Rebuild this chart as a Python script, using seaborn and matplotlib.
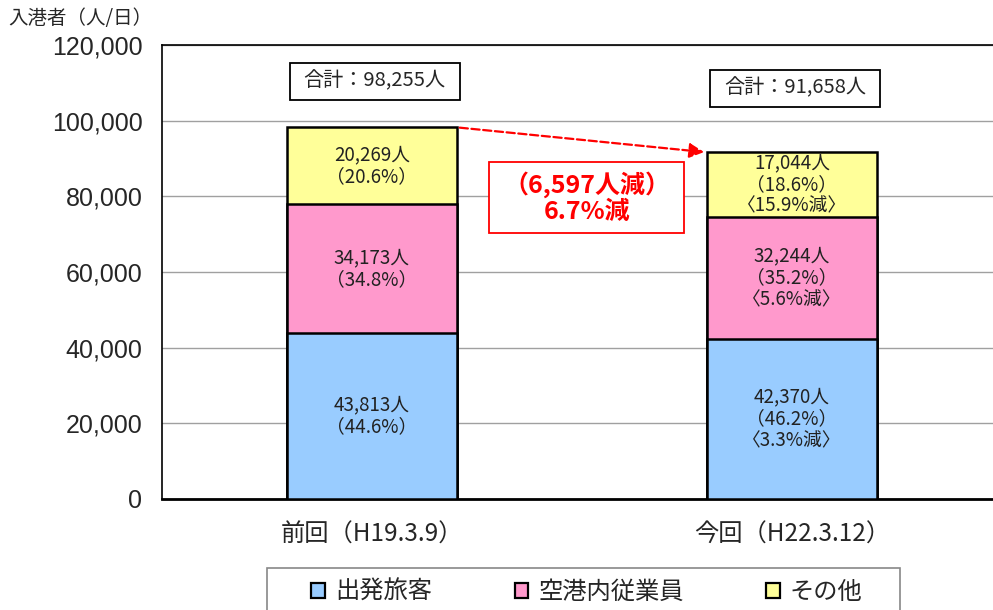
import numpy as np
import pandas as pd
import matplotlib
matplotlib.use('Agg')
import matplotlib.pyplot as plt
from matplotlib.patches import Patch, Rectangle
import seaborn as sns

# ------------------------------------------------------------------
# データ（入港者数：人/日）
# ------------------------------------------------------------------
categories = ['前回（H19.3.9）', '今回（H22.3.12）']
series_names = ['出発旅客', '空港内従業員', 'その他']
passengers = [43813, 42370]   # 出発旅客
staff = [34173, 32244]        # 空港内従業員
others = [20269, 17044]       # その他
y_ticks = [0, 20000, 40000, 60000, 80000, 100000, 120000]

colors = ['#99CCFF', '#FF99CC', '#FFFF99']

sns.set_style('white')
plt.rcParams['font.family'] = ['Noto Sans CJK JP', 'DejaVu Sans']
plt.rcParams['axes.unicode_minus'] = False

df = pd.DataFrame({'区分': categories, '出発旅客': passengers,
                   '空港内従業員': staff, 'その他': others})
df['合計'] = df[series_names].sum(axis=1)
cum_blue = df['出発旅客']
cum_pink = df['出発旅客'] + df['空港内従業員']
cum_total = df['合計']

fig = plt.figure(figsize=(9.93, 6.10), dpi=100)
ax = fig.add_axes([0.163, 0.182, 0.846, 0.744])

BAR_W = 0.405
# 積み上げ（後ろから描画）
for cum, col in [(cum_total, colors[2]), (cum_pink, colors[1]), (cum_blue, colors[0])]:
    sns.barplot(x=df['区分'], y=cum, color=col, saturation=1, width=BAR_W,
                edgecolor='black', linewidth=1.8, errorbar=None, ax=ax, zorder=3)

ax.set_xlim(-0.5, 1.5)
ax.set_ylim(0, 120000)
ax.set_yticks(y_ticks)
ax.set_yticklabels([f'{v:,}' for v in y_ticks], fontfamily='Liberation Sans', fontsize=18)
ax.yaxis.grid(True, color='#A0A0A0', linewidth=1.0, zorder=0)
ax.set_axisbelow(True)
ax.set_xlabel('')
ax.set_ylabel('')
for s in ax.spines.values():
    s.set_color('black')
ax.spines['bottom'].set_linewidth(2.0)
ax.spines['left'].set_linewidth(1.2)
ax.spines['top'].set_linewidth(1.2)
ax.tick_params(axis='y', length=0, pad=14)
ax.tick_params(axis='x', length=0, pad=16, labelsize=17.5)
ax.set_xticks([0.5], minor=True)
ax.tick_params(axis='x', which='minor', direction='in', length=5, color='black')

# ピクセル→データ座標の換算（枠の大きさ用）
fig.canvas.draw()
ext = ax.get_window_extent()
px_x = 2.0 / ext.width
px_y = 120000 / ext.height


def framed_text(x, y, s, w_px, h_px, edge, **kw):
    ax.add_patch(Rectangle((x - w_px * px_x / 2, y - h_px * px_y / 2), w_px * px_x, h_px * px_y,
                           facecolor='white', edgecolor=edge, linewidth=1.3, zorder=5))
    ax.text(x, y, s, ha='center', va='center', zorder=6, **kw)


# セグメントのラベル
prev = df.iloc[0]
for i, row in df.iterrows():
    bottoms = [0, row['出発旅客'], row['出発旅客'] + row['空港内従業員']]
    for name, b in zip(series_names, bottoms):
        v = row[name]
        lines = [f'{v:,}人', f'（{v / row["合計"] * 100:.1f}%）']
        if i > 0:
            lines.append(f'〈{(1 - v / prev[name]) * 100:.1f}%減〉')
        ax.text(i, b + v / 2, '\n'.join(lines), ha='center', va='center',
                fontsize=13.5, color='#222222', linespacing=1.05, zorder=5)

# 合計ボックス
total_pos = [(0.007, 110500), (1.007, 108600)]
for i, row in df.iterrows():
    x, y = total_pos[i]
    framed_text(x, y, f'合計：{row["合計"]:,}人', 170, 37, 'black', fontsize=14.5)

# 減少量の矢印と注記
diff = cum_total[0] - cum_total[1]
rate = diff / cum_total[0] * 100
ax.annotate('', xy=(1 - BAR_W / 2, cum_total[1]), xytext=(BAR_W / 2, cum_total[0]),
            arrowprops=dict(arrowstyle='-|>', color='red', linestyle='--',
                            linewidth=1.6, mutation_scale=22), zorder=6)
framed_text(0.512, 79700, f'（{diff:,}人減）\n{rate:.1f}%減', 195, 71, 'red',
            fontsize=18, fontweight='bold', color='red', linespacing=1.12)

fig.text(0.008, 0.970, '入港者（人/日）', fontsize=14, ha='left', va='center')

# 凡例（枠は下端で切れる）
fig.patches.append(Rectangle((267 / 993, -0.02), (900 - 267) / 993, (610 - 568) / 610 + 0.02,
                             transform=fig.transFigure, facecolor='white',
                             edgecolor='#888888', linewidth=1.2, zorder=0))
handles = [Patch(facecolor=c, edgecolor='black', linewidth=1.6) for c in colors]
fig.legend(handles, series_names, loc='center', bbox_to_anchor=(587 / 993, 1 - 592 / 610),
           ncol=3, fontsize=17.5, frameon=False,
           handlelength=0.55, handleheight=0.55, handletextpad=0.42, columnspacing=3.4,
           borderpad=0, borderaxespad=0)

fig.savefig('out.png', dpi=100)
